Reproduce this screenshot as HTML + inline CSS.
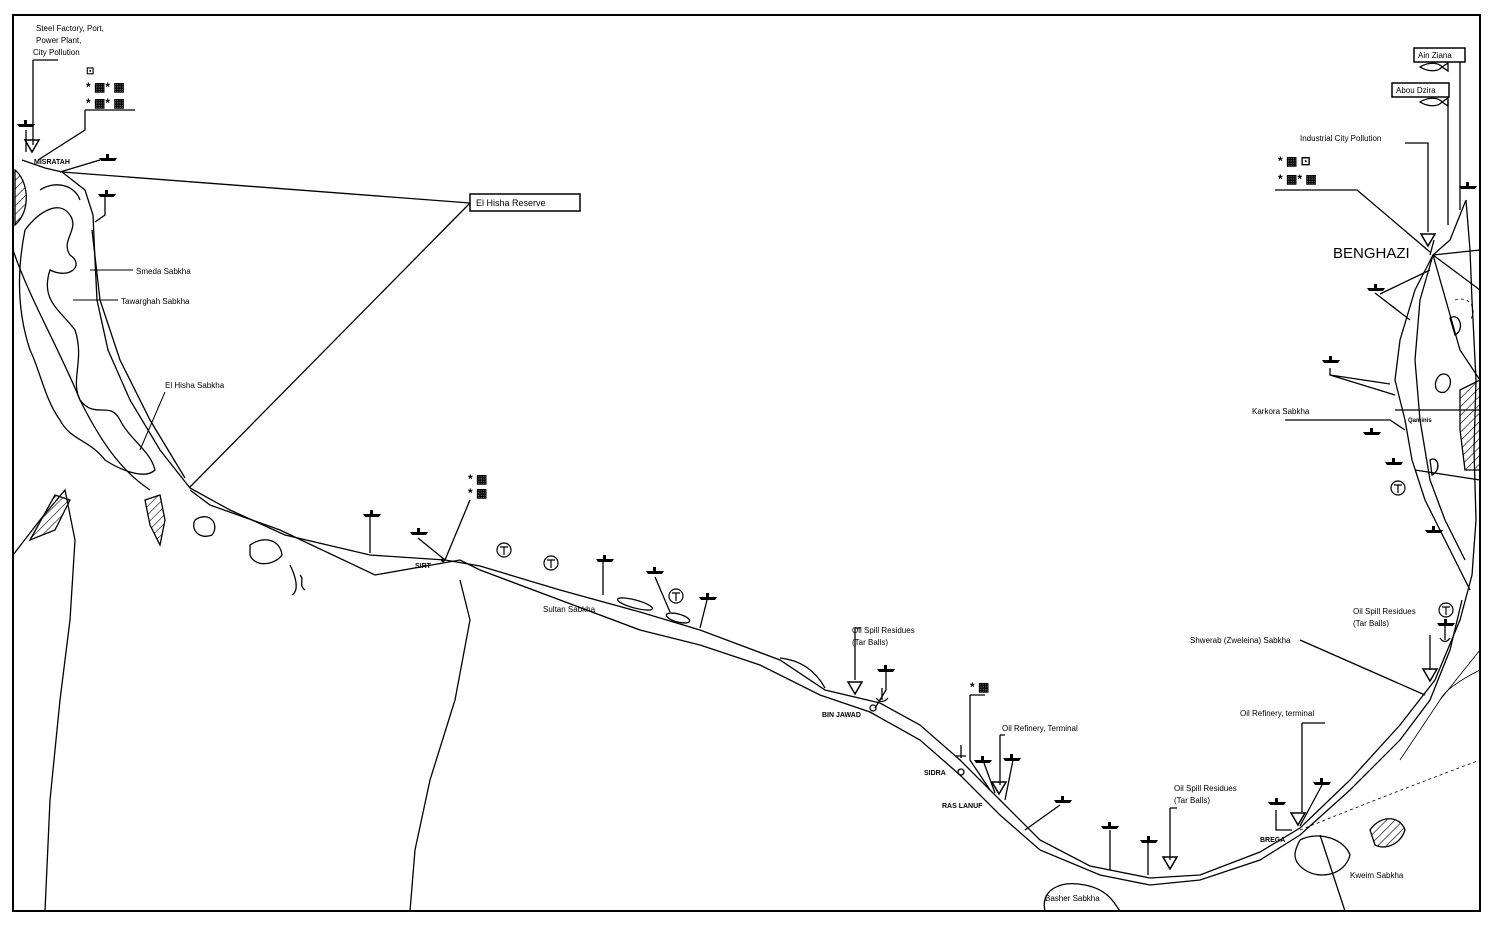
<!DOCTYPE html>
<html><head><meta charset="utf-8"><style>
html,body{margin:0;padding:0;background:#fff;width:1500px;height:928px;overflow:hidden}
svg{display:block}
</style></head><body>
<svg width="1500" height="928" viewBox="0 0 1500 928" xmlns="http://www.w3.org/2000/svg" font-family="Liberation Sans, sans-serif" font-size="8">
<defs>
<g id="ship"><path d="M-9,0 L9,0 L7,3 L-7,3 Z" fill="#000"/><rect x="-2" y="-4" width="3" height="4" fill="#000"/></g>
<g id="tri"><path d="M-7,-6 L7,-6 L0,6 Z" fill="none" stroke="#000" stroke-width="1.5"/></g>
<g id="tee"><circle r="7" fill="none" stroke="#000" stroke-width="1.2"/><path d="M-4,-3 H4 M0,-3 V5" stroke="#000" stroke-width="1.2"/></g>
<pattern id="hatch" width="6" height="6" patternUnits="userSpaceOnUse" patternTransform="rotate(45)"><line x1="0" y1="0" x2="0" y2="6" stroke="#000" stroke-width="1.2"/></pattern>
</defs>
<rect x="13" y="15" width="1467" height="896" fill="none" stroke="#000" stroke-width="2"/>
<g fill="none" stroke="#000" stroke-width="1.3">
<path d="M22,160 L45,168 L62,172 L85,190 L93,215 L95,260 L97,300 L108,350 L130,400 L160,450 L190,488 L230,510 L285,535 L370,555 L445,560 L480,566 L560,590 L640,612 L700,630 L780,660 L825,690 L880,703 L920,725 L960,760 L1000,800 L1040,840 L1090,866 L1150,878 L1200,875 L1260,852 L1300,828 L1350,780 L1400,725 L1435,680 L1460,620 L1472,575 L1476,520 L1474,450 L1476,380 L1472,300 L1470,250 L1466,200"/>
<path d="M190,490 L210,505 L280,530 L375,575 L460,560 L480,570 L560,600 L640,630 L700,645 L760,665 L820,695 L870,712 L920,740 L960,775 L1000,815 L1040,850 L1100,875 L1150,885 L1200,880 L1260,860 L1300,835 L1350,790 L1400,740 L1430,700 L1450,650 L1462,600"/>
<path d="M92,230 L100,300 L120,360 L150,420 L185,478"/>
<path d="M13,250 C30,300 60,350 80,400 C100,440 120,470 150,490"/>
<path d="M13,555 L40,520 L65,490 L75,540 L70,620 L60,700 L50,800 L45,911"/>
<path d="M460,580 L470,620 L455,700 L430,780 L415,850 L410,911"/>
<path d="M25,230 C40,210 60,200 70,215 C80,230 60,240 70,255 C85,265 70,280 50,270 C40,300 60,310 75,330 C85,360 70,380 80,400 C95,420 110,400 120,420 C130,440 150,450 155,470 C145,480 120,470 105,460 C90,440 70,440 60,420 C45,400 40,370 30,350 C20,320 15,280 25,230"/>
<path d="M40,190 C55,180 75,185 80,200"/>
<path d="M195,520 C210,510 220,525 212,535 C200,540 190,530 195,520"/>
<path d="M250,545 C265,535 280,540 282,555 C275,565 255,568 250,555Z"/>
<path d="M145,500 L160,495 L165,520 L160,545 L150,525Z" fill="url(#hatch)"/>
<path d="M30,540 L55,495 L70,500 L55,530Z" fill="url(#hatch)"/>
<path d="M15,170 C28,180 32,210 15,225Z" fill="url(#hatch)"/>
<path d="M290,565 C295,575 300,590 292,595 M300,575 C305,580 298,585 305,590"/>
<path d="M133,270 H90 M118,300 H73 M165,392 L140,450" stroke-width="1"/>
<ellipse cx="635" cy="604" rx="18" ry="4" transform="rotate(15 635 604)"/>
<ellipse cx="678" cy="618" rx="12" ry="4" transform="rotate(15 678 618)"/>
<path d="M780,658 C800,660 815,670 825,688"/>
<path d="M1045,911 C1040,890 1060,880 1085,885 C1110,890 1115,905 1120,911"/>
<path d="M1300,840 C1320,830 1345,840 1350,855 C1345,875 1320,880 1305,870 C1290,860 1295,850 1300,840"/>
<path d="M1370,830 C1380,815 1400,815 1405,830 C1400,845 1385,850 1375,845Z" fill="url(#hatch)"/>
<path d="M1320,835 L1345,911"/>
<path d="M1300,830 C1350,810 1400,790 1480,760" stroke-dasharray="3,3" stroke-width="0.8"/>
<path d="M1466,200 L1450,240 L1433,255 L1415,290 L1400,340 L1395,380 L1405,420 L1412,460 L1425,500 L1440,530 L1455,560 L1470,590"/>
<path d="M1433,255 L1420,300 L1415,360 L1420,420 L1430,480 L1445,520 L1465,560"/>
<path d="M1433,255 L1480,290 M1433,255 L1480,250 M1433,255 L1460,350 L1480,380 M1395,410 L1480,410 M1415,470 L1480,480"/>
<path d="M1440,375 C1450,370 1455,385 1445,392 C1435,395 1432,382 1440,375Z"/>
<path d="M1450,318 C1460,312 1465,330 1455,335Z"/>
<path d="M1430,460 C1438,455 1442,470 1432,475Z"/>
<path d="M1460,390 L1480,380 L1480,470 L1465,470 L1460,430Z" fill="url(#hatch)"/>
<path d="M1455,300 C1470,295 1478,310 1470,320" stroke-dasharray="3,3" stroke-width="0.8"/>
<path d="M62,172 L470,203 M190,487 L470,203"/>
<rect x="470" y="194" width="110" height="17" stroke-width="1.5"/>
<path d="M33,60 H58 M33,60 V145 M85,110 H135 M85,110 V130 L38,160 M60,172 L100,160"/>
<path d="M26,130 V152 M105,196 V215 L95,222"/>
<path d="M1405,143 H1428 V232 M1275,190 H1357 L1430,252 M1434,240 L1430,255 M1448,100 V225 M1460,62 V210"/>
<path d="M1380,294 L1430,270 M1375,293 L1410,320 M1330,368 V375 L1390,384 M1330,375 L1395,395 M1285,420 H1390 L1405,430"/>
<rect x="1414" y="48" width="51" height="14" stroke-width="1.5"/>
<rect x="1392" y="83" width="57" height="14" stroke-width="1.5"/>
<path d="M370,515 V553 M418,538 L445,560 M470,500 L445,560 M603,562 V595 M655,577 L670,612 M707,600 L700,628"/>
<path d="M855,628 V680 M861,628 H855 M886,672 V690 L875,708 M970,695 H985 M970,695 V760 L990,790 M1000,735 H1005 M1000,735 V785 M984,763 L995,793 M1013,760 L1005,800 M1060,805 L1025,830 M1110,830 V870 M1148,843 V875 M1170,808 H1177 M1170,808 V860 M1276,810 V830 L1292,830 M1302,723 H1325 M1302,723 V812 M1322,785 L1300,826 M1300,640 L1425,695 M1430,635 V670"/>
<path d="M1480,650 L1440,700 L1400,760" stroke-width="0.8"/>
<path d="M1440,700 C1445,690 1460,680 1480,670" stroke-width="0.8"/>
<circle cx="873" cy="708" r="3"/><circle cx="961" cy="772" r="3"/>
<circle cx="443" cy="560" r="1.5" fill="#000"/>
<path d="M882,688 V700 M876,698 Q882,705 888,698 M961,745 V758 M956,756 H966 M1445,626 V640 M1440,638 Q1445,645 1450,638"/>
</g>
<g fill="none" stroke="#000" stroke-width="1.3">
<path d="M1420,67 C1428,62 1438,62 1442,67 L1448,63 L1448,71 L1442,67 C1438,72 1428,72 1420,67Z"/>
<path d="M1420,102 C1428,97 1438,97 1442,102 L1448,98 L1448,106 L1442,102 C1438,107 1428,107 1420,102Z"/>
</g>
<use href="#ship" x="26" y="124"/><use href="#ship" x="108" y="158"/><use href="#ship" x="107" y="194"/>
<use href="#ship" x="372" y="514"/><use href="#ship" x="419" y="532"/><use href="#ship" x="605" y="559"/><use href="#ship" x="655" y="571"/><use href="#ship" x="708" y="597"/>
<use href="#ship" x="886" y="669"/><use href="#ship" x="983" y="760"/><use href="#ship" x="1012" y="758"/><use href="#ship" x="1063" y="800"/><use href="#ship" x="1110" y="826"/><use href="#ship" x="1149" y="840"/><use href="#ship" x="1277" y="802"/><use href="#ship" x="1322" y="782"/>
<use href="#ship" x="1468" y="186"/><use href="#ship" x="1376" y="288"/><use href="#ship" x="1331" y="360"/><use href="#ship" x="1372" y="432"/><use href="#ship" x="1394" y="462"/><use href="#ship" x="1434" y="530"/><use href="#ship" x="1446" y="623"/>
<use href="#tri" x="32" y="146"/><use href="#tri" x="855" y="688"/><use href="#tri" x="999" y="788"/><use href="#tri" x="1170" y="863"/><use href="#tri" x="1298" y="819"/><use href="#tri" x="1428" y="240"/><use href="#tri" x="1430" y="675"/>
<use href="#tee" x="504" y="550"/><use href="#tee" x="551" y="563"/><use href="#tee" x="676" y="596"/><use href="#tee" x="1398" y="488"/><use href="#tee" x="1446" y="610"/>
<g fill="#000">
<text x="36" y="31">Steel Factory, Port,</text>
<text x="36" y="43">Power Plant,</text>
<text x="33" y="55">City Pollution</text>
<text x="86" y="74" font-weight="bold" font-size="10">⊡</text>
<text x="86" y="91" font-weight="bold" font-size="12">* ▦* ▦</text>
<text x="86" y="107" font-weight="bold" font-size="12">* ▦* ▦</text>
<text x="34" y="164" font-weight="bold" font-size="7">MISRATAH</text>
<text x="476" y="206" font-size="9">El Hisha Reserve</text>
<text x="136" y="274">Smeda Sabkha</text>
<text x="121" y="304">Tawarghah Sabkha</text>
<text x="165" y="388">El Hisha Sabkha</text>
<text x="468" y="483" font-weight="bold" font-size="12">* ▦</text>
<text x="468" y="497" font-weight="bold" font-size="12">* ▦</text>
<text x="415" y="568" font-weight="bold" font-size="7">SIRT</text>
<text x="543" y="612">Sultan Sabkha</text>
<text x="852" y="633">Oil Spill Residues</text>
<text x="852" y="645">(Tar Balls)</text>
<text x="822" y="717" font-weight="bold" font-size="7">BIN JAWAD</text>
<text x="970" y="691" font-weight="bold" font-size="12">* ▦</text>
<text x="1002" y="731">Oil Refinery, Terminal</text>
<text x="924" y="775" font-weight="bold" font-size="7">SIDRA</text>
<text x="942" y="808" font-weight="bold" font-size="7">RAS LANUF</text>
<text x="1174" y="791">Oil Spill Residues</text>
<text x="1174" y="803">(Tar Balls)</text>
<text x="1240" y="716">Oil Refinery, terminal</text>
<text x="1260" y="842" font-weight="bold" font-size="7">BREGA</text>
<text x="1045" y="901">Basher Sabkha</text>
<text x="1350" y="878">Kweim Sabkha</text>
<text x="1190" y="643">Shwerab (Zweleina) Sabkha</text>
<text x="1353" y="614">Oil Spill Residues</text>
<text x="1353" y="626">(Tar Balls)</text>
<text x="1252" y="414">Karkora Sabkha</text>
<text x="1408" y="422" font-weight="bold" font-size="6">Qaminis</text>
<text x="1333" y="258" font-size="15">BENGHAZI</text>
<text x="1300" y="141">Industrial City Pollution</text>
<text x="1278" y="165" font-weight="bold" font-size="12">* ▦ ⊡</text>
<text x="1278" y="183" font-weight="bold" font-size="12">* ▦* ▦</text>
<text x="1418" y="58">Ain Ziana</text>
<text x="1396" y="93">Abou Dzira</text>
</g>
</svg>
</body></html>
